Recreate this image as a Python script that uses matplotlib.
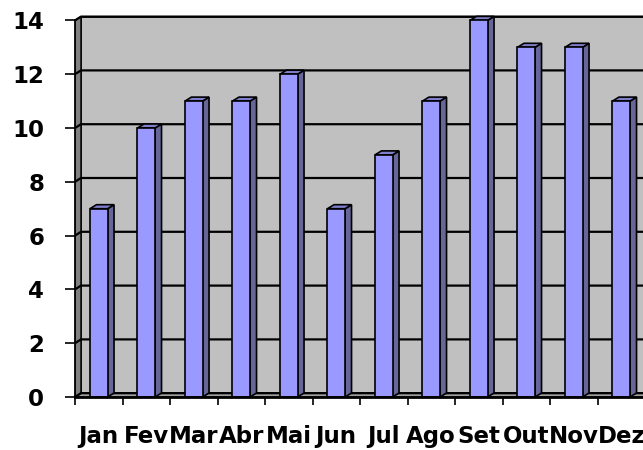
import matplotlib
matplotlib.use("Agg")
import matplotlib.pyplot as plt
from matplotlib.patches import Polygon
import numpy as np

months = ["Jan", "Fev", "Mar", "Abr", "Mai", "Jun", "Jul", "Ago", "Set", "Out", "Nov", "Dez"]
values = [7, 10, 11, 11, 12, 7, 9, 11, 14, 13, 13, 11]
yticks = [0, 2, 4, 6, 8, 10, 12, 14]

W, H = 643, 450
fig = plt.figure(figsize=(W / 100, H / 100), dpi=100)
px_cat = 47.5
px_unit = 26.9
x0px, y0px = 75, 397
ytop = 14.7
ax = fig.add_axes([x0px / W, (H - y0px) / H, (W - x0px) / W, ytop * px_unit / H])
ax.set_xlim(0, (W - x0px) / px_cat)
ax.set_ylim(0, ytop)
ax.set_facecolor("white")

dx = 6 / px_cat
dy = 3.8 / px_unit
ncat = len(months)
ymax = max(yticks)

# back wall
ax.add_patch(Polygon([(dx, dy), (ncat + dx, dy), (ncat + dx, ymax + dy), (dx, ymax + dy)],
                     closed=True, facecolor="#C0C0C0", edgecolor="black", lw=1.2, zorder=1))
# left wall
ax.add_patch(Polygon([(0, 0), (dx, dy), (dx, ymax + dy), (0, ymax)],
                     closed=True, facecolor="#808080", edgecolor="black", lw=1.0, zorder=1))
# floor
ax.add_patch(Polygon([(0, 0), (ncat, 0), (ncat + dx, dy), (dx, dy)],
                     closed=True, facecolor="#A0A0A0", edgecolor="black", lw=1.0, zorder=1))
# gridlines
for t in yticks:
    ax.plot([0, dx, ncat + dx], [t, t + dy, t + dy], color="black", lw=1.6, zorder=2,
            solid_capstyle="butt")

# bars
centers = np.arange(ncat) + 0.5
bw = 0.37
bdx = 6.5 / px_cat
bdy = 4.0 / px_unit
ax.bar(centers, values, width=bw, color="#9999FF", edgecolor="black", lw=1.2, zorder=4)
for c, v in zip(centers, values):
    r = c + bw / 2
    l = c - bw / 2
    ax.add_patch(Polygon([(r, 0), (r + bdx, bdy), (r + bdx, v + bdy), (r, v)], closed=True,
                         facecolor="#666699", edgecolor="black", lw=1.2, zorder=3.5))
    ax.add_patch(Polygon([(l, v), (l + bdx, v + bdy), (r + bdx, v + bdy), (r, v)], closed=True,
                         facecolor="#7F7FCC", edgecolor="black", lw=1.2, zorder=3.5))

# spines
for s in ["top", "right"]:
    ax.spines[s].set_visible(False)
ax.spines["left"].set_bounds(0, ymax)
ax.spines["left"].set_linewidth(1.3)
ax.spines["bottom"].set_linewidth(2.0)
ax.spines["left"].set_zorder(5)
ax.spines["bottom"].set_zorder(5)

font = dict(family="DejaVu Sans", weight="bold", size=16.5)
ax.set_yticks(yticks)
ax.set_yticklabels([str(t) for t in yticks], fontdict=font)
ax.tick_params(axis="y", direction="out", length=7.2, width=1.2, pad=15)

ax.set_xticks(np.arange(ncat))
ax.set_xticklabels([""] * ncat)
ax.set_xticks(centers, minor=True)
ax.set_xticklabels(months, minor=True, fontdict=font)
ax.tick_params(axis="x", which="major", direction="out", length=6, width=1.2)
ax.tick_params(axis="x", which="minor", length=0, pad=20)

fig.savefig("out.png", dpi=100)
